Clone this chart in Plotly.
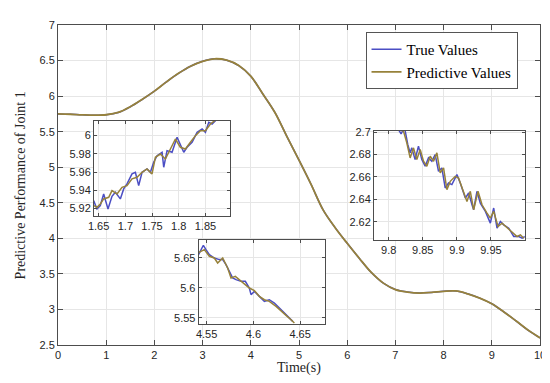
import plotly.graph_objects as go

# ---------------- data ----------------
t_main = [0, 0.25, 0.5, 0.75, 1.0, 1.25, 1.5, 1.75, 2.0, 2.25, 2.5, 2.75, 3.0, 3.25,
          3.5, 3.75, 4.0, 4.25, 4.5, 4.75, 5.0, 5.25, 5.5, 5.75, 6.0, 6.25, 6.5, 6.75,
          7.0, 7.25, 7.5, 7.75, 8.0, 8.25, 8.5, 8.75, 9.0, 9.25, 9.5, 9.75, 10.0]
true_main = [5.75, 5.745, 5.737, 5.732, 5.738, 5.77, 5.85, 5.955, 6.07, 6.2, 6.32, 6.42,
             6.49, 6.525, 6.505, 6.43, 6.28, 6.03, 5.77, 5.43, 5.10, 4.76, 4.40, 4.15,
             3.93, 3.72, 3.52, 3.37, 3.28, 3.245, 3.23, 3.24, 3.255, 3.26, 3.22, 3.16,
             3.08, 2.965, 2.84, 2.71, 2.60]
pred_main = [5.75, 5.745, 5.737, 5.732, 5.738, 5.77, 5.85, 5.955, 6.07, 6.2, 6.32, 6.42,
             6.49, 6.525, 6.505, 6.43, 6.28, 6.03, 5.77, 5.43, 5.10, 4.76, 4.40, 4.15,
             3.93, 3.72, 3.52, 3.37, 3.28, 3.245, 3.23, 3.24, 3.255, 3.26, 3.22, 3.16,
             3.08, 2.965, 2.84, 2.71, 2.60]

# inset 1 (1.64 - 1.90 s)
t_in1_true = [1.6406, 1.6469, 1.6531, 1.6594, 1.6675, 1.6750, 1.6813, 1.6906, 1.6969, 1.7031,
              1.7125, 1.7188, 1.7250, 1.7313, 1.7406, 1.7469, 1.7531, 1.7594, 1.7688, 1.7719,
              1.7781, 1.7875, 1.7969, 1.8031, 1.8094, 1.8156, 1.8250, 1.8344, 1.8438, 1.8500,
              1.8563, 1.8625, 1.8688, 1.875]
v_in1_true = [5.9286, 5.9194, 5.9231, 5.9359, 5.9194, 5.9333, 5.9377, 5.9304, 5.9414, 5.9469,
              5.9579, 5.9597, 5.9450, 5.9597, 5.9634, 5.9597, 5.9707, 5.9780, 5.9817, 5.9652,
              5.9835, 5.9817, 5.9982, 5.9890, 5.9817, 5.9872, 5.9927, 6.0036, 6.0073, 6.0036,
              6.0146, 6.0128, 6.0165, 6.020]
t_in1_pred = [1.6406, 1.6469, 1.6531, 1.6594, 1.6688, 1.6750, 1.6844, 1.6938, 1.7031, 1.7125,
              1.7219, 1.7313, 1.7406, 1.7500, 1.7563, 1.7656, 1.7750, 1.7844, 1.7938, 1.8031,
              1.8125, 1.8219, 1.8313, 1.8406, 1.8500, 1.8594, 1.8688, 1.875]
v_in1_pred = [5.9231, 5.9212, 5.9249, 5.9304, 5.9322, 5.9396, 5.9359, 5.9432, 5.9450, 5.9524,
              5.9542, 5.9597, 5.9634, 5.9579, 5.9762, 5.9798, 5.9743, 5.9853, 5.9963, 5.9872,
              5.9853, 5.9927, 6.0000, 6.0055, 6.0055, 6.0128, 6.0165, 6.020]

# inset 2 (4.54 - 4.68 s)
t_in2_true = [4.5404, 4.5440, 4.5465, 4.5493, 4.5529, 4.5582, 4.5636, 4.5672, 4.5707, 4.5743,
              4.5779, 4.5814, 4.5868, 4.5914, 4.5957, 4.5975, 4.6011, 4.6064, 4.6118, 4.6171,
              4.6225, 4.6279, 4.6332, 4.6386, 4.6421]
v_in2_true = [5.6527, 5.6638, 5.6711, 5.6638, 5.6555, 5.6499, 5.6472, 5.6472, 5.6388, 5.6277,
              5.6166, 5.6138, 5.6110, 5.6110, 5.5999, 5.5888, 5.5943, 5.5860, 5.5777, 5.5804,
              5.5749, 5.5665, 5.5582, 5.5499, 5.5443]
t_in2_pred = [4.5404, 4.5440, 4.5475, 4.5529, 4.5582, 4.5618, 4.5672, 4.5725, 4.5761, 4.5807,
              4.5850, 4.5904, 4.5957, 4.6011, 4.6064, 4.6118, 4.6171, 4.6243, 4.6296, 4.6350,
              4.6403, 4.6439]
v_in2_pred = [5.6583, 5.6611, 5.6638, 5.6527, 5.6499, 5.6416, 5.6499, 5.6333, 5.6166, 5.6194,
              5.6138, 5.6055, 5.5999, 5.5955, 5.5860, 5.5804, 5.5777, 5.5693, 5.5610, 5.5543,
              5.5471, 5.5415]

# inset 3 (9.78 - 10 s)
t_in3_true = [9.8070, 9.8143, 9.8182, 9.8217, 9.8241, 9.8280, 9.8315, 9.8339, 9.8388, 9.8437,
              9.8486, 9.8535, 9.8584, 9.8633, 9.8682, 9.8731, 9.8780, 9.8829, 9.8878, 9.8927,
              9.9001, 9.9050, 9.9124, 9.9173, 9.9222, 9.9246, 9.9295, 9.9344, 9.9418, 9.9491,
              9.9540, 9.9589, 9.9638, 9.9687, 9.9761, 9.9834, 9.9908, 9.9957, 10.0]
v_in3_true = [2.7024, 2.7024, 2.6985, 2.7024, 2.7015, 2.6890, 2.6815, 2.6860, 2.6755, 2.6875,
              2.6755, 2.6696, 2.6770, 2.6740, 2.6800, 2.6651, 2.6681, 2.6502, 2.6546, 2.6532,
              2.6621, 2.6546, 2.6412, 2.6457, 2.6352, 2.6308, 2.6472, 2.6367, 2.6293, 2.6188,
              2.6323, 2.6143, 2.6203, 2.6173, 2.6143, 2.6069, 2.6069, 2.6054, 2.6069]
t_in3_pred = [9.8045, 9.8143, 9.8217, 9.8266, 9.8315, 9.8364, 9.8413, 9.8462, 9.8511, 9.8560,
              9.8609, 9.8658, 9.8707, 9.8756, 9.8805, 9.8854, 9.8903, 9.8976, 9.9025, 9.9075,
              9.9148, 9.9197, 9.9246, 9.9310, 9.9369, 9.9442, 9.9491, 9.9540, 9.9604, 9.9663,
              9.9736, 9.9810, 9.9883, 9.9932, 9.9981]
v_in3_pred = [2.7024, 2.7024, 2.7009, 2.6905, 2.6770, 2.6860, 2.6755, 2.6845, 2.6740, 2.6696,
              2.6785, 2.6740, 2.6815, 2.6636, 2.6681, 2.6487, 2.6561, 2.6606, 2.6591, 2.6502,
              2.6382, 2.6472, 2.6308, 2.6472, 2.6352, 2.6278, 2.6233, 2.6293, 2.6158, 2.6188,
              2.6149, 2.6114, 2.6069, 2.6084, 2.6054]

# tick labels
main_xticks = [0, 1, 2, 3, 4, 5, 6, 7, 8, 9, 10]
main_xtext = ["0", "1", "2", "3", "4", "5", "6", "7", "8", "9", "10"]
main_yticks = [2.5, 3, 3.5, 4, 4.5, 5, 5.5, 6, 6.5, 7]
main_ytext = ["2.5", "3", "3.5", "4", "4.5", "5", "5.5", "6", "6.5", "7"]
in1_xticks = [1.65, 1.7, 1.75, 1.8, 1.85]
in1_xtext = ["1.65", "1.7", "1.75", "1.8", "1.85"]
in1_yticks = [5.92, 5.94, 5.96, 5.98, 6.0]
in1_ytext = ["5.92", "5.94", "5.96", "5.98", "6"]
in2_xticks = [4.55, 4.6, 4.65]
in2_xtext = ["4.55", "4.6", "4.65"]
in2_yticks = [5.55, 5.6, 5.65]
in2_ytext = ["5.55", "5.6", "5.65"]
in3_xticks = [9.8, 9.85, 9.9, 9.95]
in3_xtext = ["9.8", "9.85", "9.9", "9.95"]
in3_yticks = [2.62, 2.64, 2.66, 2.68, 2.7]
in3_ytext = ["2.62", "2.64", "2.66", "2.68", "2.7"]

series_names = ["True Values", "Predictive Values"]
x_title = "Time(s)"
y_title = "Predictive Performance of Joint 1"

# ---------------- styling ----------------
TRUE_C = "#4b4ec4"
PRED_C = "#97823a"
LINE_W = 1.5
AXC = "#4d4d4d"
GRIDC = "#e6e6e6"
TICKFONT = dict(family="Liberation Sans, Arial, sans-serif", size=11, color="#262626")
SERIF = "Liberation Serif, Times New Roman, serif"

fig = go.Figure()

fig.add_trace(go.Scatter(x=t_main, y=true_main, mode="lines", name=series_names[0],
                         line=dict(color=TRUE_C, width=LINE_W, shape="spline"),
                         xaxis="x", yaxis="y"))
fig.add_trace(go.Scatter(x=t_main, y=pred_main, mode="lines", name=series_names[1],
                         line=dict(color=PRED_C, width=1.8, shape="spline"),
                         xaxis="x", yaxis="y"))

insets = [
    (t_in1_true, v_in1_true, t_in1_pred, v_in1_pred),
    (t_in2_true, v_in2_true, t_in2_pred, v_in2_pred),
    (t_in3_true, v_in3_true, t_in3_pred, v_in3_pred),
]
for k, (tt, vt, tp, vp) in enumerate(insets):
    n = k + 2
    fig.add_trace(go.Scatter(x=tt, y=vt, mode="lines", showlegend=False,
                             line=dict(color=TRUE_C, width=LINE_W),
                             xaxis=f"x{n}", yaxis=f"y{n}"))
    fig.add_trace(go.Scatter(x=tp, y=vp, mode="lines", showlegend=False,
                             line=dict(color=PRED_C, width=LINE_W),
                             xaxis=f"x{n}", yaxis=f"y{n}"))


def ax(**kw):
    d = dict(showline=True, linecolor=AXC, linewidth=1, mirror="allticks",
             ticks="inside", tickcolor=AXC, ticklen=4, showgrid=True,
             gridcolor=GRIDC, gridwidth=1, zeroline=False, tickfont=TICKFONT,
             tickmode="array")
    d.update(kw)
    return d


in_ranges = {
    2: dict(xr=[1.6413, 1.896], yr=[5.9116, 6.0161], xd=[0.0747, 0.3568], yd=[0.4031, 0.7000],
            xt=(in1_xticks, in1_xtext), yt=(in1_yticks, in1_ytext)),
    3: dict(xr=[4.5415, 4.677], yr=[5.5399, 5.6794], xd=[0.2919, 0.5546], yd=[0.0656, 0.3272],
            xt=(in2_xticks, in2_xtext), yt=(in2_yticks, in2_ytext)),
    4: dict(xr=[9.7785, 9.9995], yr=[2.6035, 2.7013], xd=[0.6556, 0.9683], yd=[0.3272, 0.6697],
            xt=(in3_xticks, in3_xtext), yt=(in3_yticks, in3_ytext)),
}

layout = dict(
    width=550, height=383,
    margin=dict(l=50, r=18, t=17, b=46),
    paper_bgcolor="white", plot_bgcolor="white",
    showlegend=True,
    xaxis=ax(domain=[0, 1], range=[0, 10], tickvals=main_xticks, ticktext=main_xtext,
             ticklen=5, anchor="y"),
    yaxis=ax(domain=[0, 1], range=[2.5, 7], tickvals=main_yticks, ticktext=main_ytext,
             ticklen=5, anchor="x"),
    legend=dict(x=0.638, y=0.978, xanchor="left", yanchor="top",
                bgcolor="white", bordercolor="#555555", borderwidth=1,
                font=dict(family=SERIF, size=15, color="#000000"),
                tracegroupgap=0),
    shapes=[],
    annotations=[
        dict(text=x_title, xref="paper", yref="paper", x=0.5, y=-0.072,
             xanchor="center", yanchor="middle", showarrow=False,
             font=dict(family=SERIF, size=14, color="#262626")),
        dict(text=y_title, xref="paper", yref="paper", x=-0.078, y=0.5,
             xanchor="center", yanchor="middle", showarrow=False, textangle=-90,
             font=dict(family=SERIF, size=14, color="#262626")),
    ],
)

for n, r in in_ranges.items():
    layout[f"xaxis{n}"] = ax(domain=r["xd"], range=r["xr"], anchor=f"y{n}",
                             tickvals=r["xt"][0], ticktext=r["xt"][1], ticklen=3)
    layout[f"yaxis{n}"] = ax(domain=r["yd"], range=r["yr"], anchor=f"x{n}",
                             tickvals=r["yt"][0], ticktext=r["yt"][1], ticklen=3)
    layout["shapes"].append(dict(type="rect", xref=f"x{n}", yref=f"y{n}",
                                 x0=r["xr"][0], x1=r["xr"][1], y0=r["yr"][0], y1=r["yr"][1],
                                 fillcolor="white", line=dict(width=0), layer="below"))

fig.update_layout(**layout)
fig.write_html("out.html")
